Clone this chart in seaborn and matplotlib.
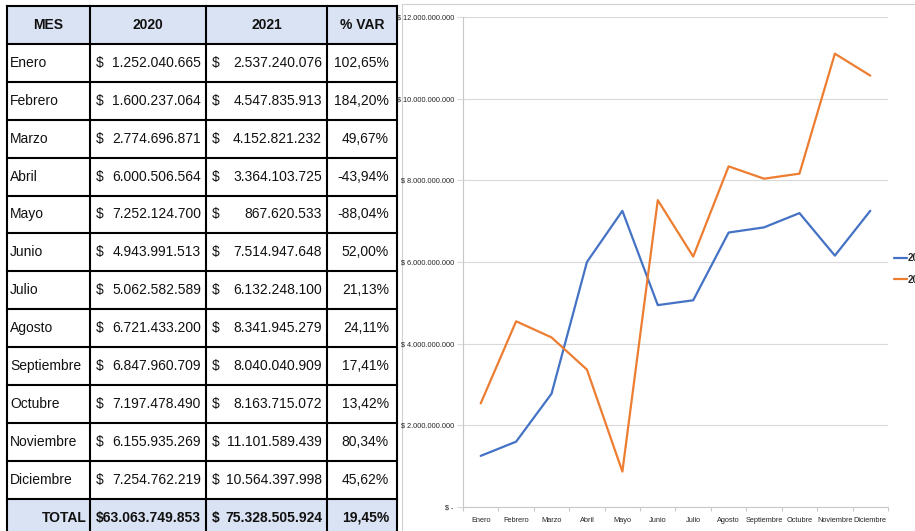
import matplotlib
matplotlib.use('Agg')
import matplotlib.pyplot as plt
import seaborn as sns
import pandas as pd
from matplotlib.patches import Rectangle
from matplotlib.lines import Line2D
from matplotlib.ticker import FuncFormatter, FixedLocator

# ---------------- data ----------------
meses = ["Enero", "Febrero", "Marzo", "Abril", "Mayo", "Junio", "Julio",
         "Agosto", "Septiembre", "Octubre", "Noviembre", "Diciembre"]
v2020 = [1252040665, 1600237064, 2774696871, 6000506564, 7252124700, 4943991513,
         5062582589, 6721433200, 6847960709, 7197478490, 6155935269, 7254762219]
v2021 = [2537240076, 4547835913, 4152821232, 3364103725, 867620533, 7514947648,
         6132248100, 8341945279, 8040040909, 8163715072, 11101589439, 10564397998]
var_pct = [102.65, 184.20, 49.67, -43.94, -88.04, 52.00, 21.13, 24.11, 17.41,
           13.42, 80.34, 45.62]
total_2020 = 63063749853
total_2021 = 75328505924
total_var = 19.45
headers = ["MES", "2020", "2021", "% VAR"]
series_names = ["2020", "2021"]
y_ticks = [0, 2e9, 4e9, 6e9, 8e9, 10e9, 12e9]

sns.set_theme(style="white")
FONT = ['Liberation Sans', 'DejaVu Sans']
plt.rcParams['font.family'] = FONT


def fmt_num(v):
    return f"{v:,.0f}".replace(",", ".")


def fmt_pct(p):
    return f"{p:.2f}%".replace(".", ",")


W, H = 915, 531
fig = plt.figure(figsize=(W / 100, H / 100), dpi=100)
fig.patch.set_facecolor('white')

# ---------------- table (pixel coordinates) ----------------
tax = fig.add_axes([0, 0, 1, 1])
tax.set_xlim(0, W)
tax.set_ylim(H, 0)
tax.axis('off')

# chart frame
tax.add_patch(Rectangle((402, 4), 530, 560, fill=False, ec='#d0d0d0', lw=0.8))

col_x = [7, 90, 206, 327, 397]
row_top = 6
row_h = 37.9
n_rows = 14
fill_c = '#DAE3F3'
tax.add_patch(Rectangle((col_x[0], row_top), col_x[-1] - col_x[0], row_h,
                        fc=fill_c, ec='none'))
tax.add_patch(Rectangle((col_x[0], row_top + 13 * row_h), col_x[-1] - col_x[0], row_h,
                        fc=fill_c, ec='none'))
for i in range(n_rows + 1):
    yy = row_top + i * row_h
    if yy <= H:
        tax.plot([col_x[0], col_x[-1]], [yy, yy], color='black', lw=1.5,
                 solid_capstyle='projecting')
for xx in col_x:
    tax.plot([xx, xx], [row_top, H + 5], color='black', lw=1.5,
             solid_capstyle='projecting')

fs = 10
tc = '#111111'
# header
for j, h in enumerate(headers):
    tax.text((col_x[j] + col_x[j + 1]) / 2, row_top + row_h / 2, h,
             ha='center', va='center', fontsize=fs, fontweight='bold', color=tc)

for i, m in enumerate(meses):
    yc = row_top + (i + 1) * row_h + row_h / 2
    tax.text(col_x[0] + 3, yc, m, ha='left', va='center', fontsize=fs, color=tc)
    tax.text(col_x[1] + 6, yc, "$", ha='left', va='center', fontsize=fs, color=tc)
    tax.text(col_x[2] - 5, yc, fmt_num(v2020[i]), ha='right', va='center', fontsize=fs, color=tc)
    tax.text(col_x[2] + 6, yc, "$", ha='left', va='center', fontsize=fs, color=tc)
    tax.text(col_x[3] - 5, yc, fmt_num(v2021[i]), ha='right', va='center', fontsize=fs, color=tc)
    tax.text(col_x[4] - 8, yc, fmt_pct(var_pct[i]), ha='right', va='center', fontsize=fs, color=tc)

yc = row_top + 13 * row_h + row_h / 2
tax.text(col_x[1] - 3, yc, "TOTAL", ha='right', va='center', fontsize=fs,
         fontweight='bold', color=tc)
tax.text(col_x[2] - 5, yc, "$" + fmt_num(total_2020), ha='right', va='center',
         fontsize=fs, fontweight='bold', color=tc)
tax.text(col_x[2] + 6, yc, "$", ha='left', va='center', fontsize=fs, fontweight='bold', color=tc)
tax.text(col_x[3] - 5, yc, fmt_num(total_2021), ha='right', va='center',
         fontsize=fs, fontweight='bold', color=tc)
tax.text(col_x[4] - 8, yc, fmt_pct(total_var), ha='right', va='center',
         fontsize=fs, fontweight='bold', color=tc)

# ---------------- line chart ----------------
left, right, top, bottom = 463, 888, 17, 507
ax = fig.add_axes([left / W, 1 - bottom / H, (right - left) / W, (bottom - top) / H])
ax.patch.set_alpha(0)

df = pd.DataFrame({
    'Mes': meses * 2,
    'Valor': v2020 + v2021,
    'Año': [series_names[0]] * 12 + [series_names[1]] * 12,
})
colors = ['#4472C4', '#ED7D31']
sns.lineplot(data=df, x='Mes', y='Valor', hue='Año', palette=colors, ax=ax,
             sort=False, lw=1.6, legend=False)

ax.set_xlim(-0.5, 11.5)
ax.set_ylim(0, 12e9)
ax.set_xlabel('')
ax.set_ylabel('')
ax.yaxis.set_major_locator(FixedLocator(y_ticks))
ax.yaxis.set_major_formatter(FuncFormatter(
    lambda v, p: "$ -" if v == 0 else "$ " + fmt_num(v)))
ax.yaxis.grid(True, color='#d9d9d9', lw=0.8)
ax.xaxis.grid(False)
for s in ['top', 'right']:
    ax.spines[s].set_visible(False)
for s in ['left', 'bottom']:
    ax.spines[s].set_color('#c8c8c8')
    ax.spines[s].set_linewidth(0.8)
ax.tick_params(axis='y', length=4, width=0.8, color='#d9d9d9', pad=2.5,
               labelsize=5.3, labelcolor='#262626', left=True)
ax.tick_params(axis='x', which='major', length=0, pad=7, labelsize=5.3,
               labelcolor='#262626')
ax.set_xticks([i + 0.5 for i in range(-1, 12)], minor=True)
ax.tick_params(axis='x', which='minor', length=3, width=0.8, color='#c8c8c8', bottom=True)
for lab in ax.get_xticklabels() + ax.get_yticklabels():
    lab.set_family(FONT)

handles = [Line2D([], [], color=c, lw=1.6) for c in colors]
fig.legend(handles, series_names, loc='center left',
           bbox_to_anchor=(894 / W, 1 - 269 / H), frameon=False,
           handlelength=1.3, handletextpad=0.15, labelspacing=1.2,
           borderpad=0, borderaxespad=0,
           prop={'family': FONT, 'weight': 'bold', 'size': 7})

fig.savefig('out.png', dpi=100)
